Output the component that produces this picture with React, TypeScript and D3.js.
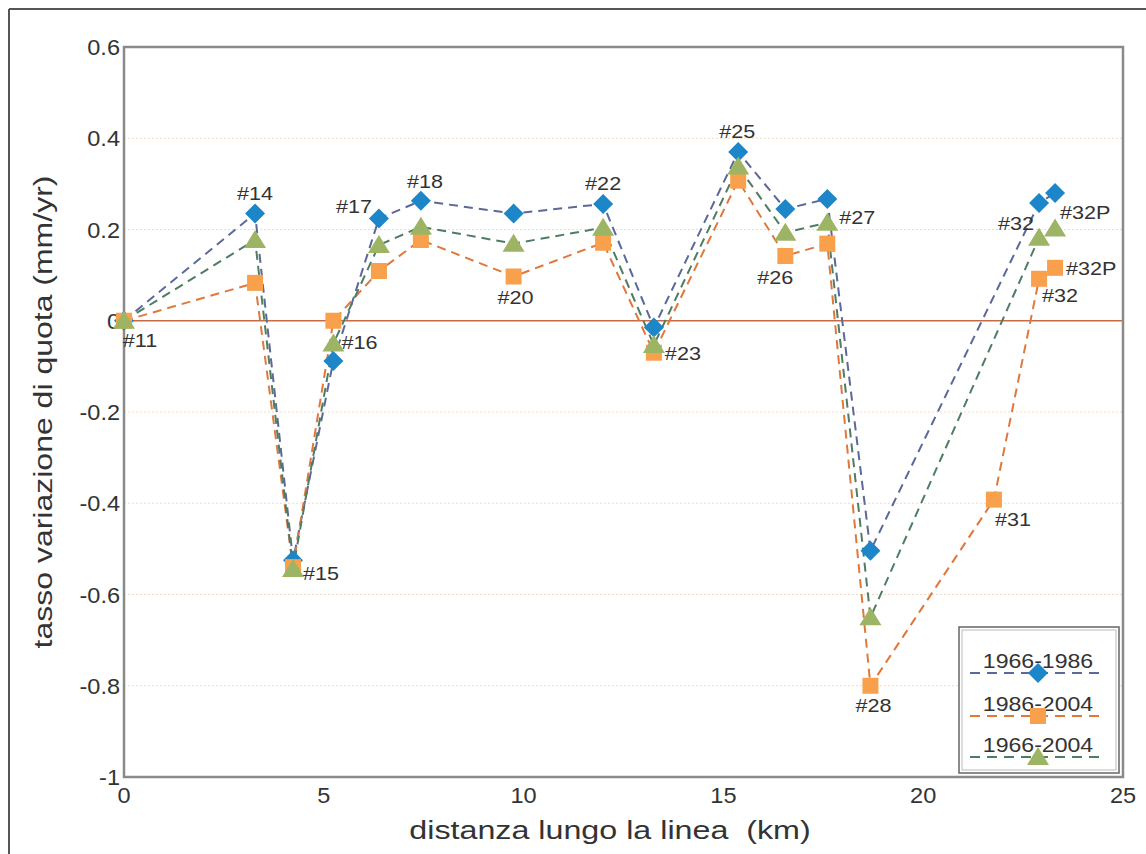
import React from "react";
import * as d3 from "d3";

const stations = ["#11","#14","#15","#16","#17","#18","#20","#22","#23","#25","#26","#27","#28","#31","#32","#32P"];
const distances = [0, 3.28, 4.23, 5.24, 6.38, 7.43, 9.75, 11.99, 13.26, 15.37, 16.55, 17.6, 18.68, 21.77, 22.9, 23.3];
const blue = [0, 0.235, -0.525, -0.088, 0.224, 0.263, 0.235, 0.256, -0.015, 0.37, 0.245, 0.267, -0.504, null, 0.258, 0.28];
const orange = [0, 0.083, -0.54, 0.0, 0.109, 0.177, 0.097, 0.171, -0.07, 0.307, 0.142, 0.169, -0.8, -0.392, 0.092, 0.116];
const green = [0, 0.177, -0.544, -0.05, 0.166, 0.206, 0.169, 0.204, -0.053, 0.338, 0.193, 0.215, -0.65, null, 0.182, 0.202];
const seriesNames = ["1966-1986", "1986-2004", "1966-2004"];
const xTicks = [0, 5, 10, 15, 20, 25];
const yTicks = [0.6, 0.4, 0.2, 0, -0.2, -0.4, -0.6, -0.8, -1];
const yTickLabels = ["0.6", "0.4", "0.2", "0", "-0.2", "-0.4", "-0.6", "-0.8", "-1"];

// label placements: [text, station index, value, dx, dy, anchor]
const labels: [string, number, number, number, number, string][] = [
  ["#11", 0, 0, 16, 26, "middle"],
  ["#14", 1, 0.235, 0, -14, "middle"],
  ["#15", 2, -0.54, 10, 13, "start"],
  ["#16", 3, -0.05, 8, 5, "start"],
  ["#17", 4, 0.224, -7, -6, "end"],
  ["#18", 5, 0.263, 4, -13, "middle"],
  ["#20", 6, 0.097, 2, 28, "middle"],
  ["#22", 7, 0.256, 0, -14, "middle"],
  ["#23", 8, -0.053, 11, 15, "start"],
  ["#25", 9, 0.37, -1, -14, "middle"],
  ["#26", 10, 0.142, -10, 28, "middle"],
  ["#27", 11, 0.215, 12, 1, "start"],
  ["#28", 12, -0.8, 3, 26, "middle"],
  ["#31", 13, -0.392, 19, 26, "middle"],
  ["#32", 14, 0.182, -5, -8, "end"],
  ["#32P", 15, 0.28, 5, 26, "start"],
  ["#32P", 15, 0.116, 11, 7, "start"],
  ["#32", 14, 0.092, 3, 23, "start"],
];

const W = 1146, H = 854;
const L = 124, R = 1123, T = 47, B = 777;
const font = "Arial, 'Liberation Sans', Helvetica, sans-serif";

function SText(props: { x: number; y: number; size: number; sx: number; anchor?: string; rotate?: number; children: any }) {
  const { x, y, size, sx, anchor = "start", rotate = 0, children } = props;
  return (
    <text
      transform={`translate(${x},${y}) rotate(${rotate}) scale(${sx},1)`}
      textAnchor={anchor as any}
      fontSize={size}
      fill="#333"
      style={{ whiteSpace: "pre" }}
    >
      {children}
    </text>
  );
}

export default function App() {
  const x = d3.scaleLinear().domain([0, 25]).range([L, R]);
  const y = d3.scaleLinear().domain([-1, 0.6]).range([B, T]);

  const series = [
    { name: seriesNames[0], vals: blue, line: "#5b6899", fill: "#1c86c8", shape: "diamond" },
    { name: seriesNames[1], vals: orange, line: "#e0783c", fill: "#f9a04c", shape: "square" },
    { name: seriesNames[2], vals: green, line: "#4e7d62", fill: "#9db464", shape: "triangle" },
  ];

  const lineGen = d3.line<[number, number]>().x(d => x(d[0])).y(d => y(d[1]));

  const marker = (shape: string, cx: number, cy: number, fill: string, key: string) => {
    if (shape === "diamond") {
      const s = 10;
      return <path key={key} d={`M${cx},${cy - s}L${cx + s},${cy}L${cx},${cy + s}L${cx - s},${cy}Z`} fill={fill} />;
    }
    if (shape === "square") {
      return <rect key={key} x={cx - 8} y={cy - 8} width={16} height={16} fill={fill} />;
    }
    return <path key={key} d={`M${cx},${cy - 10}L${cx + 11},${cy + 8}L${cx - 11},${cy + 8}Z`} fill={fill} />;
  };

  return (
    <svg width={W} height={H} style={{ position: "absolute", left: 0, top: 0, fontFamily: font }}>
      <rect x={0} y={0} width={W} height={H} fill="#fff" />
      <line x1={9} y1={9} x2={W} y2={9} stroke="#555" strokeWidth={2} />
      <line x1={9} y1={9} x2={9} y2={H} stroke="#555" strokeWidth={2} />

      {/* grid */}
      {yTicks.filter(t => t !== 0 && t !== 0.6 && t !== -1).map(t => (
        <line key={"g" + t} x1={L} x2={R} y1={y(t)} y2={y(t)} stroke="#f3d9c2" strokeWidth={1} strokeDasharray="2,2" />
      ))}
      <line x1={L} x2={R} y1={y(0)} y2={y(0)} stroke="#c46c48" strokeWidth={1.5} />

      {/* frame */}
      <rect x={L} y={T} width={R - L} height={B - T} fill="none" stroke="#8a8a8a" strokeWidth={2.5} />

      {/* tick labels */}
      {yTicks.map((t, i) => (
        <SText key={"yt" + t} x={L - 4} y={y(t) + 8} size={22} sx={1.07} anchor="end">{yTickLabels[i]}</SText>
      ))}
      {xTicks.map(t => (
        <SText key={"xt" + t} x={x(t)} y={B + 26} size={22} sx={1.07} anchor="middle">{String(t)}</SText>
      ))}

      <SText x={610} y={839} size={25} sx={1.29} anchor="middle">{"distanza lungo la linea  (km)"}</SText>
      <SText x={52} y={412} size={25} sx={1.28} anchor="middle" rotate={-90}>{"tasso variazione di quota (mm/yr)"}</SText>

      {/* lines */}
      {series.map(s => {
        const pts: [number, number][] = [];
        s.vals.forEach((v, i) => { if (v !== null) pts.push([distances[i], v as number]); });
        return <path key={"l" + s.name} d={lineGen(pts) || ""} fill="none" stroke={s.line} strokeWidth={2} strokeDasharray="9,6" />;
      })}
      {/* markers */}
      {series.map(s => s.vals.map((v, i) => v === null ? null : marker(s.shape, x(distances[i]), y(v as number), s.fill, s.name + i)))}

      {/* labels */}
      {labels.map((l, i) => (
        <SText key={"lb" + i} x={x(distances[l[1]]) + l[3]} y={y(l[2]) + l[4]} size={18} sx={1.2} anchor={l[5]}>{l[0]}</SText>
      ))}

      {/* legend */}
      <g>
        <rect x={959} y={627} width={160} height={146} fill="#fff" stroke="#666" strokeWidth={1.5} />
        <rect x={962} y={630} width={154} height={140} fill="none" stroke="#bbb" strokeWidth={1} />
        {[673, 716, 757].map((ly, i) => {
          const s = series[i];
          return (
            <g key={"lg" + i}>
              <SText x={1038} y={ly - 5} size={21} sx={1.1} anchor="middle">{s.name}</SText>
              <line x1={970} x2={1104} y1={ly} y2={ly} stroke={s.line} strokeWidth={2} strokeDasharray="10,7" />
              {marker(s.shape, 1038, ly, s.fill, "lm" + i)}
            </g>
          );
        })}
      </g>
    </svg>
  );
}
